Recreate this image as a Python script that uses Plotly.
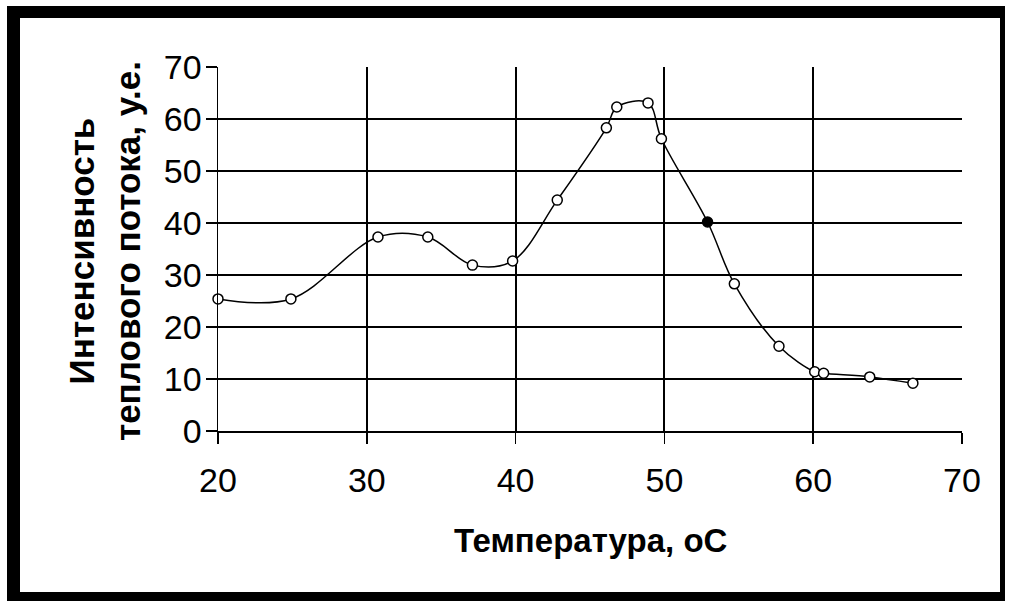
import plotly.graph_objects as go

# Data
temperature = [20.0, 24.9, 30.75, 34.1, 37.1, 39.8, 42.8, 46.1, 46.8, 48.9, 49.8, 52.9, 54.7, 57.7, 60.1, 60.7, 63.8, 66.7]
intensity   = [25.4, 25.4, 37.3, 37.3, 31.9, 32.7, 44.4, 58.3, 62.3, 63.1, 56.2, 40.2, 28.3, 16.3, 11.4, 11.1, 10.4, 9.2]
x_ticks = [20, 30, 40, 50, 60, 70]
y_ticks = [0, 10, 20, 30, 40, 50, 60, 70]
x_title = "<b>Температура, оС</b>"
y_title = "<b>Интенсивность<br>теплового потока, у.е.</b>"

W, H = 1010, 601
ML, MR, MT, MB = 218, 48, 67, 170
PW, PH = W - ML - MR, H - MT - MB

def px(x):
    return (x - ML) / PW

def py(y):
    return (H - MB - y) / PH

fill = ["white"] * len(temperature)
fill[temperature.index(52.9)] = "black"

fig = go.Figure()
fig.add_trace(go.Scatter(
    x=temperature, y=intensity, mode="lines+markers",
    line=dict(color="black", width=1.5, shape="spline", smoothing=1.0),
    marker=dict(symbol="circle", size=10, color=fill, line=dict(color="black", width=1.5)),
    cliponaxis=False, showlegend=False, hoverinfo="skip",
))

font_family = "Liberation Sans, Arial, sans-serif"
axis_common = dict(
    showgrid=True, gridcolor="black", gridwidth=2,
    showline=True, linecolor="black", linewidth=1.5,
    ticks="outside", ticklen=11, tickwidth=1.5, tickcolor="black",
    zeroline=False, tickfont=dict(family=font_family, size=34, color="black"),
    fixedrange=True,
)
fig.update_xaxes(range=[20, 70], tickvals=x_ticks, ticklabelstandoff=8, **axis_common)
fig.update_yaxes(range=[0, 70], tickvals=y_ticks, ticklabelstandoff=-3, **axis_common)

fig.update_layout(
    width=W, height=H,
    margin=dict(l=ML, r=MR, t=MT, b=MB, pad=0),
    paper_bgcolor="white", plot_bgcolor="white",
    font=dict(family=font_family, color="black"),
    shapes=[
        dict(type="rect", xref="paper", yref="paper", layer="below",
             x0=px(7), x1=px(1005), y0=py(6), y1=py(620),
             fillcolor="black", line=dict(width=0)),
        dict(type="rect", xref="paper", yref="paper", layer="below",
             x0=px(20), x1=px(1000), y0=py(18), y1=py(592),
             fillcolor="white", line=dict(width=0)),
    ],
    annotations=[
        dict(text=x_title, xref="paper", yref="paper", x=px(590), y=py(540),
             xanchor="center", yanchor="middle", showarrow=False,
             font=dict(family=font_family, size=33, color="black")),
        dict(text=y_title, xref="paper", yref="paper", x=px(104), y=py(251),
             xanchor="center", yanchor="middle", showarrow=False, textangle=-90,
             font=dict(family=font_family, size=35, color="black")),
    ],
)

fig.write_html("out.html", config={"displayModeBar": False, "staticPlot": True},
               post_script="document.body.style.margin='0';document.body.style.overflow='hidden';")
